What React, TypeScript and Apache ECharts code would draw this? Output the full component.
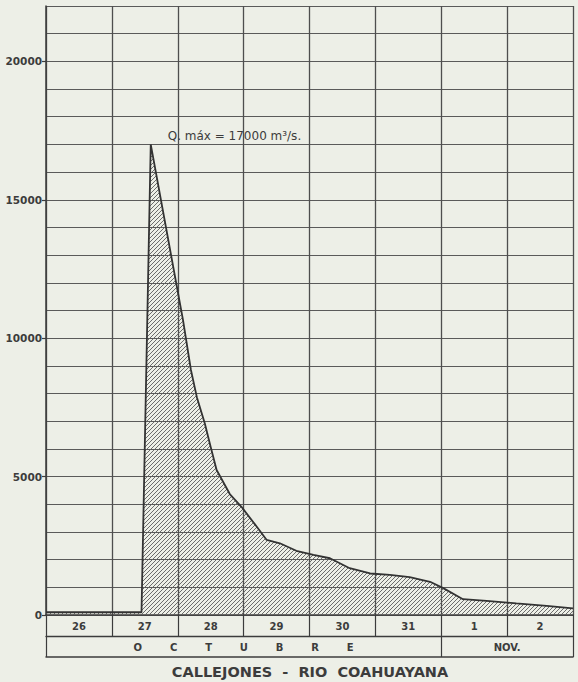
import React, { useEffect, useRef } from "react";
import * as echarts from "echarts";

const dayLabels = ["26", "27", "28", "29", "30", "31", "1", "2"];
const monthLabels = ["OCTUBRE", "NOV."];
const monthDays = [6, 2];
const yTickLabels = [0, 5000, 10000, 15000, 20000];
const timeDays = [0, 1.45, 1.59, 2.08, 2.2, 2.29, 2.41, 2.5, 2.59, 2.79, 2.97, 3.2, 3.35, 3.55, 3.8, 4.06, 4.31, 4.61, 4.92, 5.22, 5.52, 5.83, 6.03, 6.33, 6.69, 7.14, 7.6, 8];
const discharge = [100, 100, 17000, 10650, 8850, 7870, 6930, 6070, 5240, 4370, 3900, 3190, 2710, 2590, 2320, 2170, 2050, 1690, 1500, 1450, 1370, 1200, 970, 570, 510, 420, 330, 240];
const peakLabel = "Q. máx = 17000 m³/s.";
const chartTitle = "CALLEJONES  -  RIO  COAHUAYANA";

const hatchSvg =
  "<svg xmlns='http://www.w3.org/2000/svg' width='4' height='4'><path d='M-1,1L1,-1M0,4L4,0M3,5L5,3' stroke='#5e5e5e' stroke-width='0.9'/></svg>";
const hatchUrl = "data:image/svg+xml;charset=utf-8," + encodeURIComponent(hatchSvg);

export default function App() {
  const ref = useRef<HTMLDivElement>(null);
  useEffect(() => {
    document.body.style.margin = "0";
    if (!ref.current) return;
    const chart = echarts.init(ref.current, null, { renderer: "svg" });
    const nDays = dayLabels.length;
    const monthStarts: number[] = [];
    const monthCenters: number[] = [];
    let acc = 0;
    monthDays.forEach((d) => {
      monthStarts.push(acc);
      monthCenters.push(acc + d / 2);
      acc += d;
    });
    const monthBounds = [...monthStarts, acc];
    const dayBounds = Array.from({ length: nDays + 1 }, (_, i) => i);
    const dayCenters = dayLabels.map((_, i) => i + 0.5);
    const data = timeDays.map((t, i) => [t, discharge[i]]);
    let peakIdx = 0;
    discharge.forEach((v, i) => {
      if (v > discharge[peakIdx]) peakIdx = i;
    });
    const ink = "#3c3c3c";
    const font = "DejaVu Sans";
    const baseX = {
      type: "value",
      min: 0,
      max: nDays,
      interval: 1,
      gridIndex: 0,
      position: "bottom",
    };
    const baseY = {
      type: "value",
      min: 0,
      max: 22000,
      interval: 1000,
      gridIndex: 0,
      position: "left",
    };
    chart.setOption({
      animation: false,
      backgroundColor: "#edefe7",
      grid: { left: 46, right: 5, top: 6, bottom: 67, containLabel: false },
      xAxis: [
        {
          ...baseX,
          axisLine: { show: true, lineStyle: { color: ink, width: 1.5 } },
          axisTick: { show: false },
          axisLabel: { show: false },
          splitLine: { show: true, lineStyle: { color: "#4e4e4e", width: 1.3 } },
        },
        {
          ...baseX,
          offset: 0,
          axisLine: { show: false },
          axisTick: { show: true, customValues: dayBounds, length: 21, lineStyle: { color: ink, width: 1.2 } },
          axisLabel: {
            show: true,
            customValues: dayCenters,
            margin: 6,
            formatter: (v: number) => dayLabels[Math.floor(v)] ?? "",
            fontFamily: font,
            fontWeight: "bold",
            fontSize: 10,
            color: ink,
          },
          splitLine: { show: false },
        },
        {
          ...baseX,
          offset: 21,
          axisLine: { show: true, lineStyle: { color: ink, width: 1.3 } },
          axisTick: { show: true, customValues: monthBounds, length: 21, lineStyle: { color: ink, width: 1.2 } },
          axisLabel: {
            show: true,
            customValues: monthCenters,
            margin: 6,
            formatter: (v: number) => {
              const i = monthCenters.indexOf(v);
              if (i === 0) return monthLabels[0].split("").join("        ");
              return monthLabels[i] ?? "";
            },
            fontFamily: font,
            fontWeight: "bold",
            fontSize: 10,
            color: ink,
          },
          splitLine: { show: false },
        },
        {
          ...baseX,
          offset: 42,
          axisLine: { show: true, lineStyle: { color: ink, width: 1.5 } },
          axisTick: { show: false },
          axisLabel: { show: false },
          splitLine: { show: false },
        },
      ],
      yAxis: [
        {
          ...baseY,
          axisLine: { show: true, lineStyle: { color: ink, width: 1.5 } },
          axisTick: { show: true, customValues: yTickLabels, length: 4, lineStyle: { color: ink, width: 1.2 } },
          axisLabel: {
            show: true,
            customValues: yTickLabels,
            margin: 4,
            formatter: (v: number) => String(v),
            fontFamily: font,
            fontWeight: "bold",
            fontSize: 10.5,
            color: ink,
          },
          splitLine: { show: false },
        },
        {
          ...baseY,
          axisLine: { show: false },
          axisTick: { show: false },
          axisLabel: { show: false },
          splitLine: { show: true, showMinLine: true, showMaxLine: true, lineStyle: { color: "#5a5a5a", width: 1 } },
        },
      ],
      series: [
        {
          type: "line",
          data,
          xAxisIndex: 0,
          yAxisIndex: 0,
          showSymbol: false,
          symbol: "none",
          lineStyle: { color: "#333", width: 1.8 },
          areaStyle: {
            color: { image: hatchUrl, repeat: "repeat", imageWidth: 4, imageHeight: 4 },
            opacity: 1,
          },
          markPoint: {
            symbol: "circle",
            symbolSize: 0.1,
            data: [
              {
                coord: [timeDays[peakIdx], discharge[peakIdx]],
                label: {
                  show: true,
                  formatter: peakLabel,
                  position: [17, -14],
                  fontFamily: font,
                  fontSize: 12,
                  color: ink,
                },
              },
            ],
          },
        },
      ],
      graphic: [
        {
          type: "text",
          x: 310,
          y: 672,
          style: {
            text: chartTitle,
            fontFamily: font,
            fontWeight: "bold",
            fontSize: 14.5,
            fill: ink,
            align: "center",
            verticalAlign: "middle",
          },
        },
      ],
    });
    return () => chart.dispose();
  }, []);
  return <div ref={ref} style={{ width: 578, height: 682 }} />;
}
